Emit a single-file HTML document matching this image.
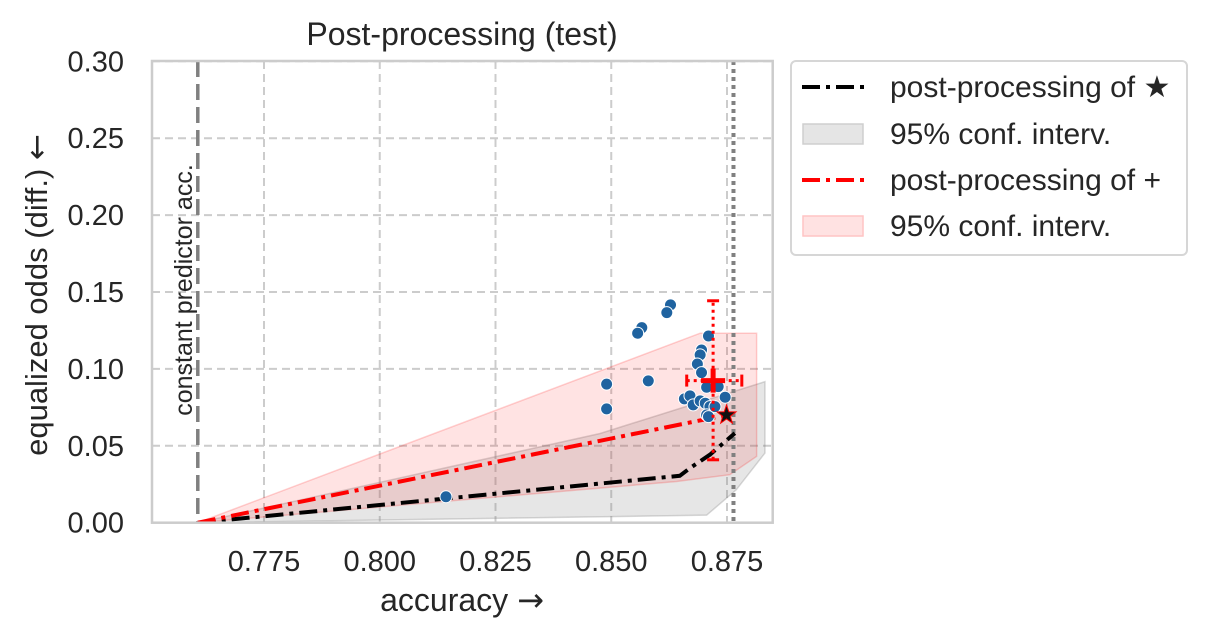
<!DOCTYPE html>
<html><head><meta charset="utf-8"><style>
body{margin:0;background:#fff;}
svg{display:block;font-family:"Liberation Sans",Arial,sans-serif;}
</style></head><body>
<svg id="chart" width="1205" height="640" viewBox="0 0 1205 640" xmlns="http://www.w3.org/2000/svg">
<defs><clipPath id="clip"><rect x="152" y="61" width="620.7" height="461.7"/></clipPath></defs>
<g id="grid"></g>
<g id="plot" clip-path="url(#clip)"></g>
<rect x="152" y="61" width="620.7" height="461.7" fill="none" stroke="#cccccc" stroke-width="2.5"/>
<g id="ticks" font-size="29" fill="#262626"></g>
<text x="462" y="45" font-size="32" text-anchor="middle" fill="#262626">Post-processing (test)</text>
<text x="462" y="611" font-size="32" text-anchor="middle" fill="#262626">accuracy <tspan font-family="DejaVu Sans">→</tspan></text>
<text transform="translate(47,295) rotate(-90)" font-size="31" text-anchor="middle" fill="#262626">equalized odds (diff.)  <tspan font-family="DejaVu Sans">←</tspan></text>
<text transform="translate(192,290) rotate(-90)" font-size="25" text-anchor="middle" fill="#262626">constant predictor acc.</text>
<g>
<rect x="791" y="61" width="396" height="194" rx="5" fill="#fff" stroke="#d6d6d6" stroke-width="2"/>
<line x1="802" y1="87" x2="864" y2="87" stroke="#000" stroke-width="4" stroke-dasharray="18,6,4,6"/>
<text x="890" y="97" font-size="30" fill="#262626">post-processing of ★</text>
<rect x="803" y="124" width="60" height="20" fill="#e5e5e5" stroke="#cfcfcf" stroke-width="1.5"/>
<text x="890" y="144" font-size="30" fill="#262626">95% conf. interv.</text>
<line x1="802" y1="180" x2="864" y2="180" stroke="#ff0000" stroke-width="4" stroke-dasharray="18,6,4,6"/>
<text x="890" y="190" font-size="30" fill="#262626">post-processing of +</text>
<rect x="803" y="216" width="60" height="20" fill="#ffe2e2" stroke="#ffc4c4" stroke-width="1.5"/>
<text x="890" y="236" font-size="30" fill="#262626">95% conf. interv.</text>
</g>
</svg>
<script>
const xTicks=[0.775,0.800,0.825,0.850,0.875];
const xTickLabels=["0.775","0.800","0.825","0.850","0.875"];
const yTicks=[0,0.05,0.10,0.15,0.20,0.25,0.30];
const yTickLabels=["0.00","0.05","0.10","0.15","0.20","0.25","0.30"];
const constAcc=0.7607;
const bestAcc=0.8764;
const pointsAcc=[0.8628,0.8620,0.8566,0.8557,0.8710,0.8695,0.8692,0.8686,0.8695,0.8490,0.8580,0.8490,0.8658,0.8670,0.8677,0.8692,0.8703,0.8713,0.8706,0.8724,0.8746,0.8706,0.8731,0.8710,0.8143];
const pointsEo=[0.1416,0.1366,0.1268,0.1232,0.1214,0.1123,0.1091,0.1032,0.0976,0.0901,0.0922,0.0740,0.0805,0.0825,0.0766,0.0792,0.0777,0.0755,0.0701,0.0755,0.0816,0.0881,0.0885,0.0690,0.0169];
const blackAcc=[0.7607,0.8648,0.8670,0.8713,0.8767];
const blackEo=[0,0.0305,0.0355,0.0442,0.0582];
const redAcc=[0.7607,0.8749];
const redEo=[0,0.0700];
const greyAcc=[0.7607,0.8476,0.8832,0.8832,0.8770,0.8706,0.7607];
const greyEo=[0,0.0580,0.0917,0.0453,0.0214,0.0049,0];
const pinkAcc=[0.7607,0.8692,0.8814,0.8814,0.8756,0.8641,0.7607];
const pinkEo=[0,0.1232,0.1232,0.0431,0.0312,0.0268,0];
const starAcc=0.8749, starEo=0.0700;
const plusAcc=0.8720, plusEo=0.0924;
const plusAccLo=0.8663, plusAccHi=0.8782, plusEoLo=0.0409, plusEoHi=0.1443;

const X=a=>264+(a-0.775)*4630;
const Y=v=>522.7-v*1538;
const NS="http://www.w3.org/2000/svg";
function mk(tag,attrs,parent){const e=document.createElementNS(NS,tag);for(const k in attrs)e.setAttribute(k,attrs[k]);parent.appendChild(e);return e;}
const grid=document.getElementById('grid'),plot=document.getElementById('plot'),ticks=document.getElementById('ticks');
xTicks.forEach((t,i)=>{
 const l=mk('line',{x1:X(t),x2:X(t),y1:61,y2:522.7,stroke:'#cccccc','stroke-width':2,'stroke-dasharray':'8,5'},grid);
 
 
 const tx=mk('text',{x:X(t),y:571,'text-anchor':'middle'},ticks);tx.textContent=xTickLabels[i];
 
 
});
yTicks.forEach((t,i)=>{
 const l=mk('line',{x1:152,x2:772.7,y1:Y(t),y2:Y(t),stroke:'#cccccc','stroke-width':2,'stroke-dasharray':'8,5'},grid);
 
 
 const tx=mk('text',{x:124,y:Y(t)+10,'text-anchor':'end'},ticks);tx.textContent=yTickLabels[i];
 
 
});
function poly(ax,ay){return ax.map((a,i)=>X(a)+','+Y(ay[i])).join(' ');}
const g=mk('polygon',{points:poly(greyAcc,greyEo),fill:'rgba(128,128,128,0.2)',stroke:'rgba(128,128,128,0.3)','stroke-width':1.5},plot);


const p=mk('polygon',{points:poly(pinkAcc,pinkEo),fill:'rgba(255,0,0,0.11)',stroke:'rgba(255,0,0,0.18)','stroke-width':1.5},plot);


const cl=mk('line',{x1:X(constAcc),x2:X(constAcc),y1:61,y2:522.7,stroke:'#808080','stroke-width':3.5,'stroke-dasharray':'16,7'},plot);


const bl=mk('line',{x1:X(bestAcc),x2:X(bestAcc),y1:61,y2:522.7,stroke:'#808080','stroke-width':4,'stroke-dasharray':'4,4'},plot);


const bk=mk('polyline',{points:poly(blackAcc,blackEo),fill:'none',stroke:'#000','stroke-width':4,'stroke-dasharray':'18,6,4,6'},plot);


const rd=mk('polyline',{points:poly(redAcc,redEo),fill:'none',stroke:'#ff0000','stroke-width':4,'stroke-dasharray':'18,6,4,6'},plot);


pointsAcc.forEach((a,i)=>{
 const c=mk('circle',{cx:X(a),cy:Y(pointsEo[i]),r:6,fill:'#1f63a0',stroke:'#fff','stroke-width':1},plot);
 
 
});
const eb=mk('g',{stroke:'#ff0000','stroke-width':3,fill:'none'},plot);


mk('line',{x1:X(plusAccLo),x2:X(plusAccHi),y1:Y(plusEo),y2:Y(plusEo),'stroke-dasharray':'3,4'},eb);
mk('line',{x1:X(plusAcc),x2:X(plusAcc),y1:Y(plusEoLo),y2:Y(plusEoHi),'stroke-dasharray':'3,4'},eb);
mk('line',{x1:X(plusAccLo),x2:X(plusAccLo),y1:Y(plusEo)-6,y2:Y(plusEo)+6},eb);
mk('line',{x1:X(plusAccHi),x2:X(plusAccHi),y1:Y(plusEo)-6,y2:Y(plusEo)+6},eb);
mk('line',{x1:X(plusAcc)-6,x2:X(plusAcc)+6,y1:Y(plusEoLo),y2:Y(plusEoLo)},eb);
mk('line',{x1:X(plusAcc)-6,x2:X(plusAcc)+6,y1:Y(plusEoHi),y2:Y(plusEoHi)},eb);
const pm=mk('path',{d:`M${X(plusAcc)-12},${Y(plusEo)}h24M${X(plusAcc)},${Y(plusEo)-12}v24`,stroke:'#ff0000','stroke-width':5},plot);


const sx=X(starAcc),sy=Y(starEo);let d='';
for(let k=0;k<10;k++){const r=k%2?4:10,ang=-Math.PI/2+k*Math.PI/5;d+=(k?'L':'M')+(sx+r*Math.cos(ang)).toFixed(1)+','+(sy+r*Math.sin(ang)).toFixed(1);}
const st=mk('path',{d:d+'Z',fill:'#111',stroke:'#ff0000','stroke-width':1},plot);


</script>
</body></html>
